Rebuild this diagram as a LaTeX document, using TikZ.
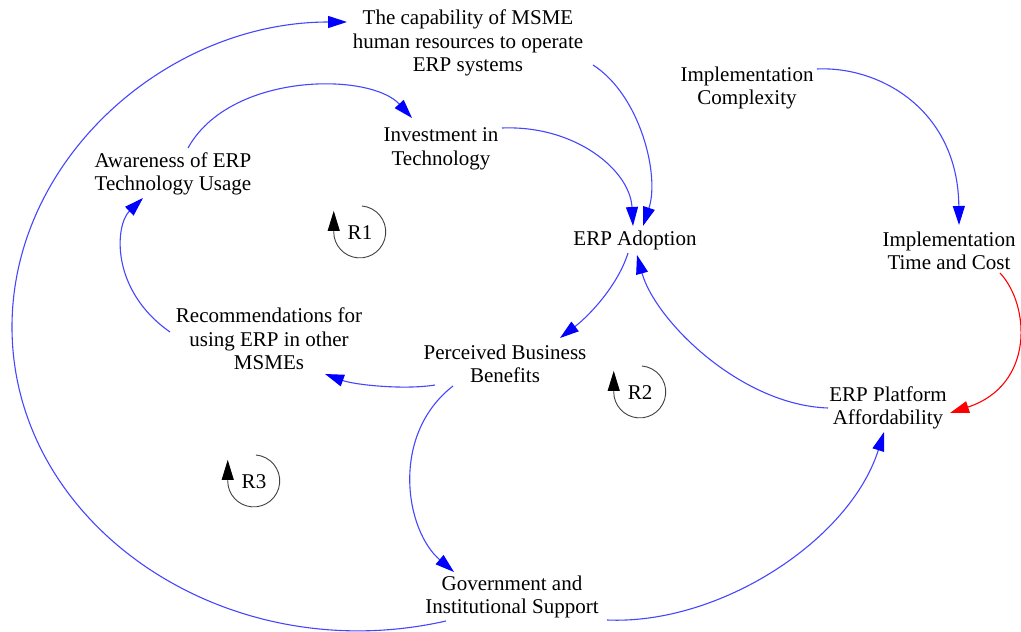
\documentclass[tikz,border=0pt]{standalone}
\usepackage{fontspec}
\setmainfont{Liberation Serif}
\usetikzlibrary{arrows.meta,calc}
\definecolor{linkblue}{RGB}{70,70,255}
\definecolor{loopgray}{RGB}{64,64,64}
\begin{document}
\begin{tikzpicture}[x=1pt,y=-1pt,
  var/.style={font=\fontsize{21}{23.5}\selectfont, align=center, inner sep=0pt, text=black},
  link/.style={draw=linkblue, line width=1.1pt, -{Triangle[length=19pt,width=12pt,color=blue]}},
  neglink/.style={draw=red, line width=1.1pt, -{Triangle[length=19pt,width=12pt,color=red]}},
  loopmark/.style={draw=loopgray, line width=0.9pt, -{Triangle[length=20pt,width=12pt,color=black]}},
]
\useasboundingbox (0,0) rectangle (1021,632);
\fill[white] (0,0) rectangle (1021,632);

% variables
\node[var] (cap)   at (468,43)  {The capability of MSME\\human resources to operate\\ERP systems};
\node[var] (inv)   at (441,149) {Investment in\\Technology};
\node[var] (aware) at (173,174) {Awareness of ERP\\Technology Usage};
\node[var] (adopt) at (635,240) {ERP Adoption};
\node[var] (cplx)  at (747,88)  {Implementation\\Complexity};
\node[var] (itc)   at (949,251) {Implementation\\Time and Cost};
\node[var] (rec)   at (269,339) {Recommendations for\\using ERP in other\\MSMEs};
\node[var] (pbb)   at (505,364) {Perceived Business\\Benefits};
\node[var] (aff)   at (888,408) {ERP Platform\\Affordability};
\node[var] (gov)   at (512,597) {Government and\\Institutional Support};

% loop labels
\node[var] (r1) at (360,233) {R1};
\node[var] (r2) at (640,393) {R2};
\node[var] (r3) at (254,482) {R3};

\draw[loopmark] ($(r1)+(2,-27)$) arc[start angle=-85, end angle=180, radius=26] -- ++(0,-21);
\draw[loopmark] ($(r2)+(2,-27)$) arc[start angle=-85, end angle=180, radius=26] -- ++(0,-21);
\draw[loopmark] ($(r3)+(2,-27)$) arc[start angle=-85, end angle=180, radius=26] -- ++(0,-21);

% connectors
\draw[link] ($(aware)+(15,-26)$) .. controls (230,72) and (370,72) .. ($(inv)+(-29,-31)$);
\draw[link] ($(inv)+(61,-21)$) .. controls (575,125) and (630,170) .. ($(adopt)+(-2,-14)$);
\draw[link] ($(cap)+(125,22)$) .. controls (640,95) and (660,175) .. ($(adopt)+(8,-14)$);
\draw[link] ($(cplx)+(70,-19)$) .. controls (880,66) and (958,110) .. ($(itc)+(10,-26)$);
\draw[neglink] ($(itc)+(51,22)$) .. controls (1030,305) and (1035,385) .. ($(aff)+(62,5)$);
\draw[link] ($(aff)+(-60,0)$) .. controls (740,405) and (655,320) .. ($(adopt)+(2,15)$);
\draw[link] ($(adopt)+(-7,13)$) .. controls (618,285) and (590,315) .. ($(pbb)+(55,-26)$);
\draw[link] ($(pbb)+(-70,21)$) .. controls (405,390) and (355,385) .. ($(rec)+(56,35)$);
\draw[link] ($(pbb)+(-52,22)$) .. controls (390,435) and (405,530) .. ($(gov)+(-58,-25)$);
\draw[link] ($(gov)+(95,23)$) .. controls (720,625) and (850,540) .. ($(aff)+(-4,24)$);
\draw[link] ($(rec)+(-99,-7)$) .. controls (110,290) and (115,225) .. ($(aware)+(-30,24)$);
\coordinate (farleft) at (12,327);
\draw[link] ($(gov)+(-66,24)$) .. controls (225,671) and (12,525) .. (farleft)
  .. controls (12,158) and (168,22) .. ($(cap)+(-121,-21)$);
\end{tikzpicture}
\end{document}
